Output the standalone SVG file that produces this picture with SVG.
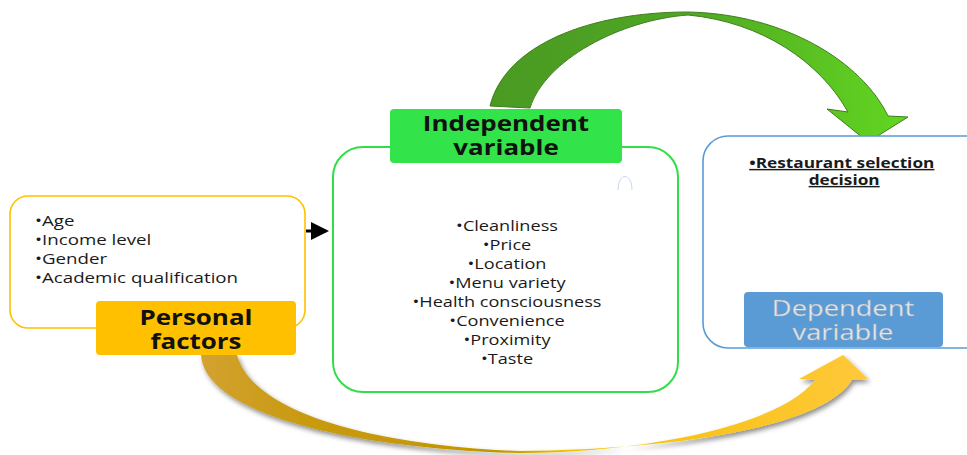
<svg xmlns="http://www.w3.org/2000/svg" width="967" height="455" viewBox="0 0 967 455">
  <defs>
    <style>
      .item { font-family: "Open Sans", "Liberation Sans", sans-serif; font-size: 14.5px; fill: #1a1a1a; }
      .title { font-family: "Open Sans", "Liberation Sans", sans-serif; font-size: 22px; font-weight: bold; fill: #111; text-anchor: middle; }
      .dep { font-family: "Open Sans", "Liberation Sans", sans-serif; font-size: 22px; fill: #e9e9e9; text-anchor: middle; stroke: #9aa9b8; stroke-width: 0.4px; }
    </style>
    <linearGradient id="greenGrad" x1="0" y1="0" x2="1" y2="0">
      <stop offset="0" stop-color="#4a9a22"/>
      <stop offset="0.45" stop-color="#4fa624"/>
      <stop offset="1" stop-color="#62d620"/>
    </linearGradient>
    <linearGradient id="goldGrad" x1="0" y1="0" x2="1" y2="0">
      <stop offset="0" stop-color="#d3a231"/>
      <stop offset="0.15" stop-color="#c89a10"/>
      <stop offset="0.45" stop-color="#c29600"/>
      <stop offset="0.55" stop-color="#f3c000"/>
      <stop offset="1" stop-color="#ffc83a"/>
    </linearGradient>
    <filter id="shadow" x="-10%" y="-20%" width="120%" height="150%">
      <feDropShadow dx="2" dy="3" stdDeviation="2.5" flood-color="#000" flood-opacity="0.45"/>
    </filter>
    <marker id="arrowHead" markerWidth="6" markerHeight="6" refX="5" refY="3" orient="auto" markerUnits="strokeWidth">
      <path d="M0,0 L6,3 L0,6 Z" fill="#000"/>
    </marker>
  </defs>

  <g id="connectors">
    <!-- curved ribbon from independent variables to the dependent box -->
    <path id="green-curve" d="M490,106 C 505,45 590,12 688,12 C 785,14 862,62 888,116 L908,117 L868,142 L827,109 L848,112 C 820,62 762,22 688,15 C 620,20 545,60 530,108 Z" fill="url(#greenGrad)" stroke="#3f7d1c" stroke-width="1"/>
    <!-- curved ribbon from personal factors to the dependent box -->
    <path id="gold-curve" d="M201,355 C 205,420 380,450 520,453 C 650,452 780,425 815,380 L799,379 L843,355 L868,379 L852,380 C 820,432 650,450 520,451 C 400,447 255,420 237,355 Z" fill="url(#goldGrad)" filter="url(#shadow)"/>
    <!-- personal factors to independent variable -->
    <line x1="306" y1="231" x2="326" y2="231" stroke="#000" stroke-width="3" marker-end="url(#arrowHead)"/>
  </g>

  <g id="personal-factors">
    <rect x="10" y="196" width="295" height="132" rx="18" fill="#fff" stroke="#ffc000" stroke-width="1.6"/>
    <g class="item" transform="translate(35,0) scale(1.29,1) translate(-35,0)">
      <text x="35" y="226">•Age</text>
      <text x="35" y="245">•Income level</text>
      <text x="35" y="264">•Gender</text>
      <text x="35" y="283">•Academic qualification</text>
    </g>
    <rect x="96" y="301" width="200" height="54" rx="4" fill="#ffc000"/>
    <g class="title" transform="translate(196,0) scale(1.18,1) translate(-196,0)">
      <text x="196" y="325">Personal</text>
      <text x="196" y="349">factors</text>
    </g>
  </g>

  <g id="independent-variable">
    <rect x="333" y="147" width="345" height="245" rx="30" fill="#fff" stroke="#33dd4a" stroke-width="2"/>
    <path d="M618,190 C 618,172 632,172 632,190" fill="none" stroke="#c8d8ee" stroke-width="1"/>
    <rect x="390" y="109" width="232" height="54" rx="4" fill="#33e34a"/>
    <g class="title" transform="translate(506,0) scale(1.18,1) translate(-506,0)">
      <text x="506" y="131">Independent</text>
      <text x="506" y="155">variable</text>
    </g>
    <g class="item" text-anchor="middle" transform="translate(507,0) scale(1.25,1) translate(-507,0)">
      <text x="507" y="231">•Cleanliness</text>
      <text x="507" y="250">•Price</text>
      <text x="507" y="269">•Location</text>
      <text x="507" y="288">•Menu variety</text>
      <text x="507" y="307">•Health consciousness</text>
      <text x="507" y="326">•Convenience</text>
      <text x="507" y="345">•Proximity</text>
      <text x="507" y="364">•Taste</text>
    </g>
  </g>

  <g id="dependent-variable">
    <rect x="703" y="136" width="290" height="212" rx="25" fill="#fff" stroke="#5b9bd5" stroke-width="1.6"/>
    <g class="item" text-anchor="middle" font-weight="bold" text-decoration="underline" transform="translate(843,0) scale(1.19,1) translate(-843,0)">
      <text x="842" y="168">•Restaurant selection</text>
      <text x="844" y="185">decision</text>
    </g>
    <rect x="744" y="292" width="199" height="55" rx="4" fill="#5b9bd5"/>
    <g class="dep" transform="translate(843,0) scale(1.24,1) translate(-843,0)">
      <text x="843" y="316">Dependent</text>
      <text x="843" y="340">variable</text>
    </g>
  </g>
</svg>
